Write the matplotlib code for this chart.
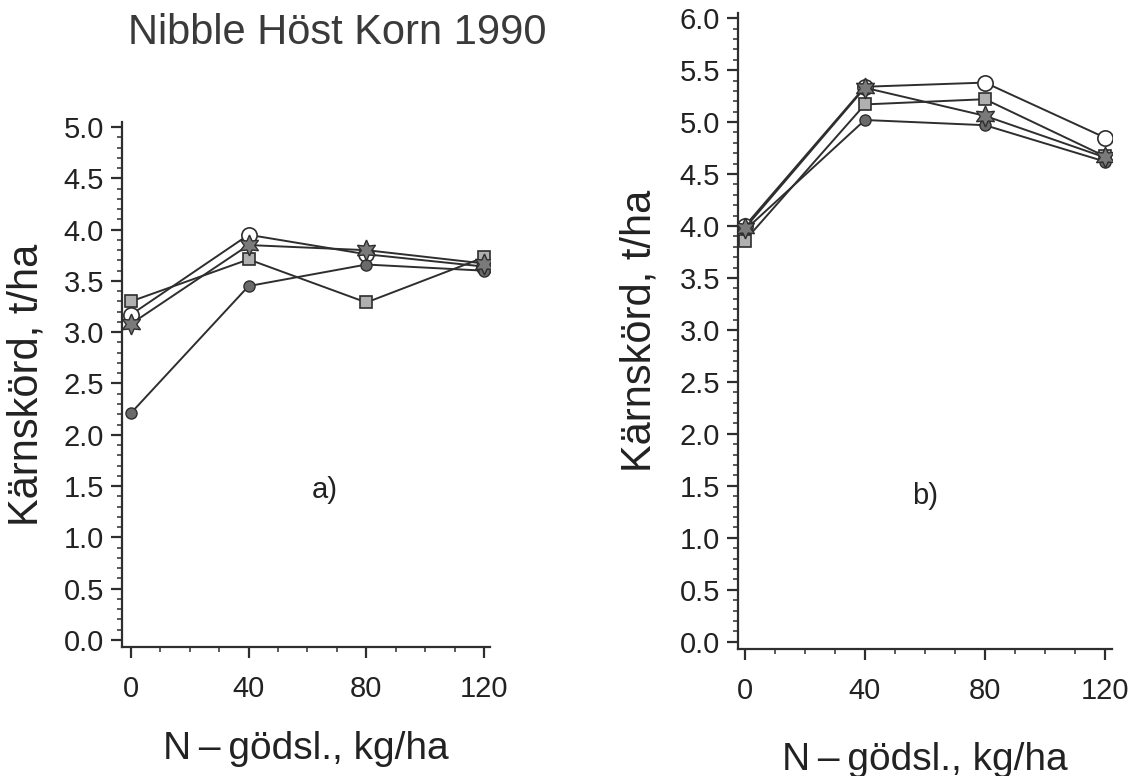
""" Grain yield versus nitrogen fertilisation, two panels """

import numpy as np
import matplotlib
matplotlib.use("Agg")
import matplotlib.pyplot as plt
from matplotlib.ticker import MultipleLocator

plt.rcParams['font.family'] = ['Liberation Sans', 'DejaVu Sans']

# N-doses, kg/ha
n_dose = [0, 40, 80, 120]

# Panel a) yields, t/ha
a_circle = [3.17, 3.95, 3.76, 3.64]
a_square = [3.30, 3.71, 3.29, 3.73]
a_star = [3.08, 3.85, 3.80, 3.67]
a_dot = [2.21, 3.45, 3.66, 3.60]

# Panel b) yields, t/ha
b_circle = [4.00, 5.34, 5.38, 4.85]
b_square = [3.86, 5.17, 5.22, 4.67]
b_star = [3.98, 5.33, 5.06, 4.66]
b_dot = [3.96, 5.02, 4.97, 4.62]

LINE = '#2e2e2e'
TEXT = '#222222'


def draw_series(ax, circle, square, star, dot):
    """ Draw the four treatment lines with their markers """
    ax.plot(n_dose, dot, color=LINE, lw=1.4, marker='o', ms=8,
            mfc='#6a6a6a', mec=LINE, mew=1.0, zorder=3)
    ax.plot(n_dose, square, color=LINE, lw=1.4, marker='s', ms=8,
            mfc='#b0b0b0', mec=LINE, mew=1.2, zorder=3)
    ax.plot(n_dose, star, color=LINE, lw=1.4, marker=(6, 1, 0), ms=15,
            mfc='#7a7a7a', mec=LINE, mew=1.0, zorder=4)
    ax.plot(n_dose, circle, color=LINE, lw=1.4, marker='o', ms=11,
            mfc='white', mec=LINE, mew=1.2, zorder=2)


def style_axes(ax, ymax, xlim, xpad, ypad):
    """ Only left and bottom spines, outward ticks """
    ax.spines['top'].set_visible(False)
    ax.spines['right'].set_visible(False)
    for s in ('left', 'bottom'):
        ax.spines[s].set_linewidth(1.6)
        ax.spines[s].set_color(LINE)
    ax.set_xlim(*xlim)
    ax.set_ylim(-0.07, ymax + 0.05)
    ax.set_xticks(n_dose)
    ax.xaxis.set_minor_locator(MultipleLocator(10))
    yt = np.arange(0, ymax + 0.01, 0.5)
    ax.set_yticks(yt)
    ax.yaxis.set_minor_locator(MultipleLocator(0.1))
    ax.set_yticklabels(['%.1f' % v for v in yt])
    ax.tick_params(axis='both', which='major', direction='out', length=8,
                   width=1.6, color=LINE, labelcolor=TEXT)
    ax.tick_params(axis='both', which='minor', direction='out', length=3.5,
                   width=1.1, color=LINE)
    ax.tick_params(axis='x', which='major', pad=12, labelsize=21)
    ax.tick_params(axis='y', which='major', pad=5, labelsize=21)
    ax.set_xlabel('N\u2009\u2013\u2009gödsl., kg/ha', fontsize=28, color=TEXT,
                  labelpad=xpad)
    ax.set_ylabel('Kärnskörd, t/ha', fontsize=30, color=TEXT, labelpad=ypad)


fig = plt.figure(figsize=(11.38, 7.76), dpi=100)
ax_a = fig.add_axes([0.1072, 0.1662, 0.3234, 0.6766])
ax_b = fig.add_axes([0.6485, 0.1637, 0.3286, 0.8196])

draw_series(ax_a, a_circle, a_square, a_star, a_dot)
draw_series(ax_b, b_circle, b_square, b_star, b_dot)
style_axes(ax_a, 5.0, (-3, 122), 20, 12)
style_axes(ax_b, 6.0, (-2.3, 122.3), 27, 14)

ax_a.text(66, 1.46, 'a)', fontsize=21, color=TEXT, ha='center', va='center')
ax_b.text(60, 1.40, 'b)', fontsize=21, color=TEXT, ha='center', va='center')

fig.text(0.296, 0.958, 'Nibble Höst Korn 1990', fontsize=30, color='#3a3a3a',
         ha='center', va='center')

fig.savefig('out.png', dpi=100)
